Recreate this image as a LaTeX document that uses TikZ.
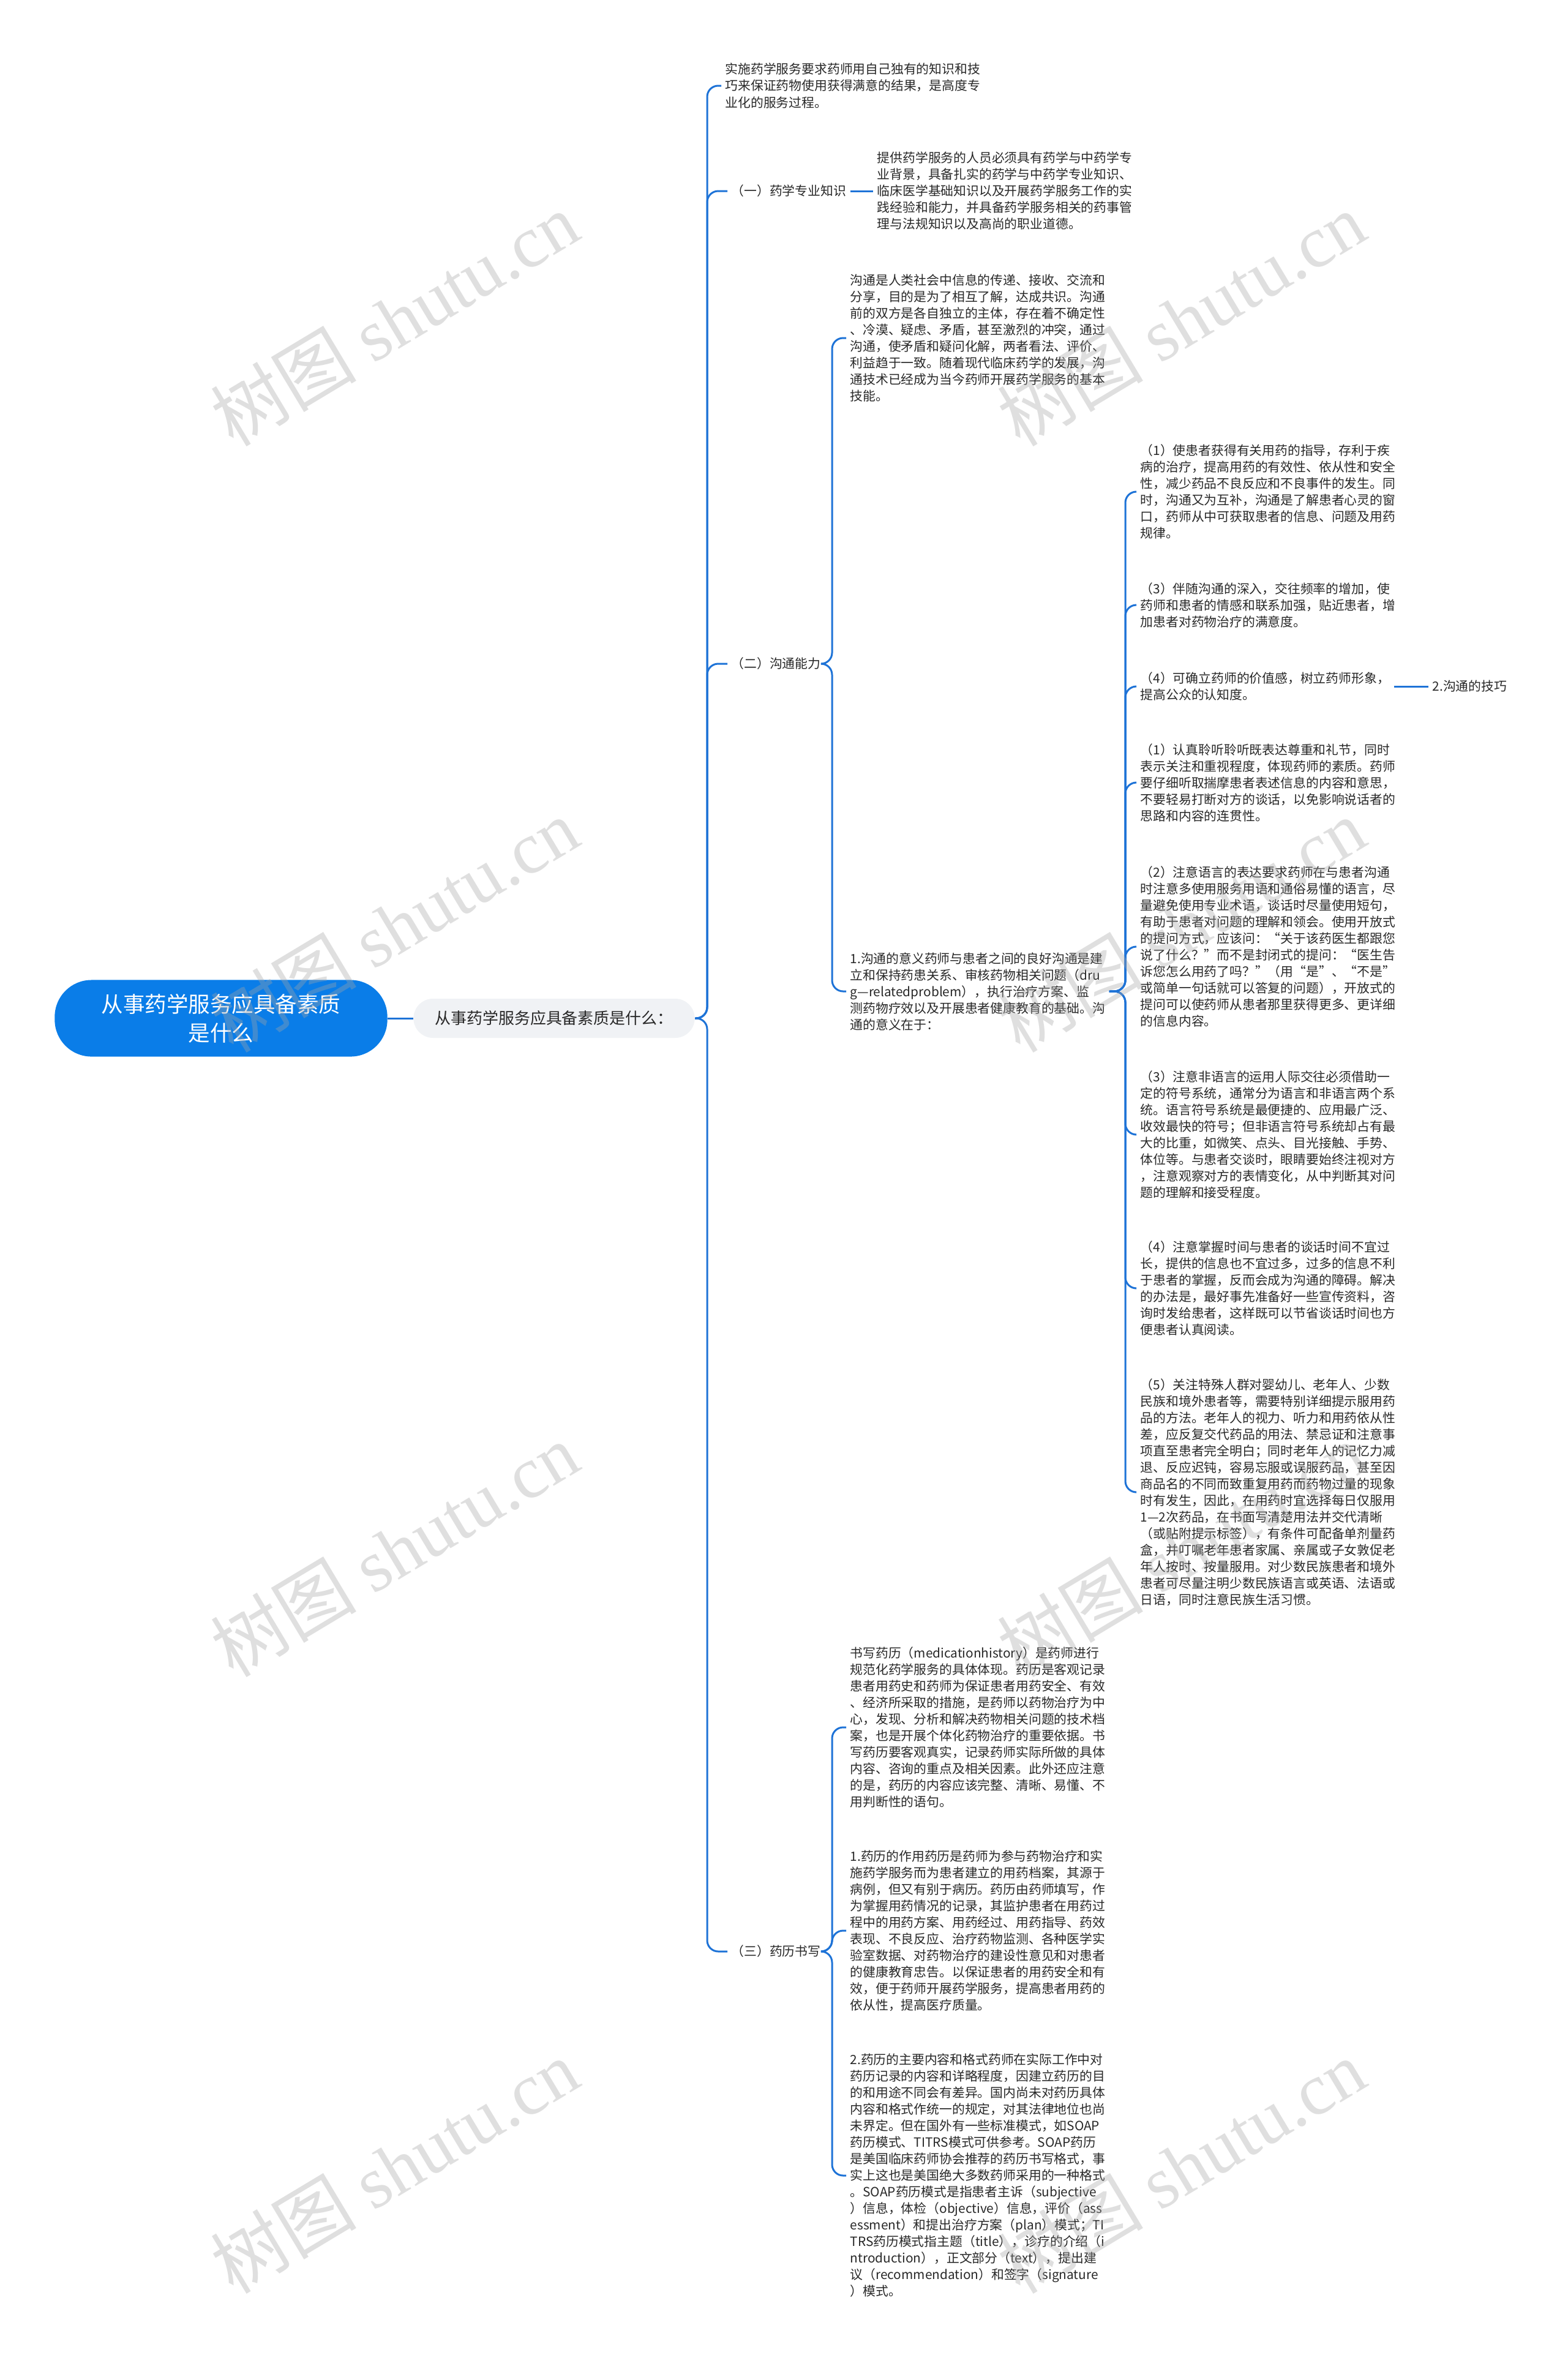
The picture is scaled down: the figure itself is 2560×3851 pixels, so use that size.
\documentclass[tikz,border=0pt]{standalone}
\usepackage{fontspec}
\setmainfont{Noto Sans CJK SC}
\newfontfamily\wmlatin{Liberation Serif}
\definecolor{linec}{RGB}{30,115,215}
\definecolor{rootc}{RGB}{10,125,232}
\definecolor{lvlc}{RGB}{240,242,245}
\definecolor{txtc}{RGB}{40,40,40}
\tikzset{
 conn/.style={draw=linec, line width=0.03cm, rounded corners=0.18cm},
 desc/.style={anchor=west, align=left, inner xsep=0.06cm, inner ysep=0pt, text=txtc, font=\fontsize{5.92pt}{7.68pt}\selectfont},
 rootbox/.style={fill=rootc, rounded corners=0.6cm, minimum width=5.43cm, minimum height=1.25cm, text=white, align=center, font=\fontsize{10.1pt}{13.4pt}\selectfont},
 lvlbox/.style={fill=lvlc, rounded corners=0.32cm, minimum width=4.59cm, minimum height=0.64cm, text=txtc, font=\fontsize{7.37pt}{9pt}\selectfont},
 wm/.style={rotate=31, text=gray!70, text opacity=0.35, font=\fontsize{34pt}{38pt}\selectfont}
}
\begin{document}
\begin{tikzpicture}[x=0.01cm,y=-0.01cm]
\useasboundingbox (0,0) rectangle (2560,3851);
\fill[white] (0,0) rectangle (2560,3851);

% root and level 1
\node[rootbox] (root) at (361,1663) {从事药学服务应具备素质\\是什么};
\node[lvlbox] (l1) at (905,1663) {从事药学服务应具备素质是什么：};
\draw[conn] (root.east) -- (l1.west);

\coordinate (t0) at (1155,1663);

\node[desc] (top) at (1178,140) {实施药学服务要求药师用自己独有的知识和技\\%
巧来保证药物使用获得满意的结果，是高度专\\%
业化的服务过程。};

\node[desc] (k1) at (1188,312) {（一）药学专业知识};
\node[desc] (k1t) at (1426,312) {提供药学服务的人员必须具有药学与中药学专\\%
业背景，具备扎实的药学与中药学专业知识、\\%
临床医学基础知识以及开展药学服务工作的实\\%
践经验和能力，并具备药学服务相关的药事管\\%
理与法规知识以及高尚的职业道德。};

\node[desc] (k2) at (1188,1084) {（二）沟通能力};
\node[desc] (k3) at (1188,3187) {（三）药历书写};

\draw[conn] (l1.east) -- (t0) |- (top.west);
\draw[conn] (l1.east) -- (t0) |- (k1.west);
\draw[conn] (l1.east) -- (t0) |- (k2.west);
\draw[conn] (l1.east) -- (t0) |- (k3.west);
\draw[conn] (k1.east) -- (k1t.west);

% (二) branch
\coordinate (b2) at (1359,1084);
\node[desc] (g0) at (1382,552) {沟通是人类社会中信息的传递、接收、交流和\\%
分享，目的是为了相互了解，达成共识。沟通\\%
前的双方是各自独立的主体，存在着不确定性\\%
、冷漠、疑虑、矛盾，甚至激烈的冲突，通过\\%
沟通，使矛盾和疑问化解，两者看法、评价、\\%
利益趋于一致。随着现代临床药学的发展，沟\\%
通技术已经成为当今药师开展药学服务的基本\\%
技能。};
\node[desc] (gm) at (1382,1619) {1.沟通的意义药师与患者之间的良好沟通是建\\%
立和保持药患关系、审核药物相关问题（dru\\%
g—relatedproblem），执行治疗方案、监\\%
测药物疗效以及开展患者健康教育的基础。沟\\%
通的意义在于：};
\draw[conn] (k2.east) -- (b2) |- (g0.west);
\draw[conn] (k2.east) -- (b2) |- (gm.west);

% children of 1.沟通的意义
\coordinate (b4) at (1838,1619);
\node[desc] (a1) at (1856,803) {（1）使患者获得有关用药的指导，存利于疾\\%
病的治疗，提高用药的有效性、依从性和安全\\%
性，减少药品不良反应和不良事件的发生。同\\%
时，沟通又为互补，沟通是了解患者心灵的窗\\%
口，药师从中可获取患者的信息、问题及用药\\%
规律。};
\node[desc] (a3) at (1856,988) {（3）伴随沟通的深入，交往频率的增加，使\\%
药师和患者的情感和联系加强，贴近患者，增\\%
加患者对药物治疗的满意度。};
\node[desc] (a4) at (1856,1121) {（4）可确立药师的价值感，树立药师形象，\\%
提高公众的认知度。};
\node[desc] (sk) at (2333,1121) {2.沟通的技巧};
\node[desc] (s1) at (1856,1278) {（1）认真聆听聆听既表达尊重和礼节，同时\\%
表示关注和重视程度，体现药师的素质。药师\\%
要仔细听取揣摩患者表述信息的内容和意思，\\%
不要轻易打断对方的谈话，以免影响说话者的\\%
思路和内容的连贯性。};
\node[desc] (s2) at (1856,1546) {（2）注意语言的表达要求药师在与患者沟通\\%
时注意多使用服务用语和通俗易懂的语言，尽\\%
量避免使用专业术语，谈话时尽量使用短句，\\%
有助于患者对问题的理解和领会。使用开放式\\%
的提问方式，应该问：“关于该药医生都跟您\\%
说了什么？”而不是封闭式的提问：“医生告\\%
诉您怎么用药了吗？”（用“是”、“不是”\\%
或简单一句话就可以答复的问题），开放式的\\%
提问可以使药师从患者那里获得更多、更详细\\%
的信息内容。};
\node[desc] (s3) at (1856,1853) {（3）注意非语言的运用人际交往必须借助一\\%
定的符号系统，通常分为语言和非语言两个系\\%
统。语言符号系统是最便捷的、应用最广泛、\\%
收效最快的符号；但非语言符号系统却占有最\\%
大的比重，如微笑、点头、目光接触、手势、\\%
体位等。与患者交谈时，眼睛要始终注视对方\\%
，注意观察对方的表情变化，从中判断其对问\\%
题的理解和接受程度。};
\node[desc] (s4) at (1856,2104) {（4）注意掌握时间与患者的谈话时间不宜过\\%
长，提供的信息也不宜过多，过多的信息不利\\%
于患者的掌握，反而会成为沟通的障碍。解决\\%
的办法是，最好事先准备好一些宣传资料，咨\\%
询时发给患者，这样既可以节省谈话时间也方\\%
便患者认真阅读。};
\node[desc] (s5) at (1856,2437) {（5）关注特殊人群对婴幼儿、老年人、少数\\%
民族和境外患者等，需要特别详细提示服用药\\%
品的方法。老年人的视力、听力和用药依从性\\%
差，应反复交代药品的用法、禁忌证和注意事\\%
项直至患者完全明白；同时老年人的记忆力减\\%
退、反应迟钝，容易忘服或误服药品，甚至因\\%
商品名的不同而致重复用药而药物过量的现象\\%
时有发生，因此，在用药时宜选择每日仅服用\\%
1—2次药品，在书面写清楚用法并交代清晰\\%
（或贴附提示标签），有条件可配备单剂量药\\%
盒，并叮嘱老年患者家属、亲属或子女敦促老\\%
年人按时、按量服用。对少数民族患者和境外\\%
患者可尽量注明少数民族语言或英语、法语或\\%
日语，同时注意民族生活习惯。};
\foreach \c in {a1,a3,a4,s1,s2,s3,s4,s5}{
  \draw[conn] (gm.east) -- (b4) |- (\c.west);
}
\draw[conn] (a4.east) -- (sk.west);

% (三) branch
\coordinate (b3) at (1359,3187);
\node[desc] (c0) at (1382,2821) {书写药历（medicationhistory）是药师进行\\%
规范化药学服务的具体体现。药历是客观记录\\%
患者用药史和药师为保证患者用药安全、有效\\%
、经济所采取的措施，是药师以药物治疗为中\\%
心，发现、分析和解决药物相关问题的技术档\\%
案，也是开展个体化药物治疗的重要依据。书\\%
写药历要客观真实，记录药师实际所做的具体\\%
内容、咨询的重点及相关因素。此外还应注意\\%
的是，药历的内容应该完整、清晰、易懂、不\\%
用判断性的语句。};
\node[desc] (c1) at (1382,3153) {1.药历的作用药历是药师为参与药物治疗和实\\%
施药学服务而为患者建立的用药档案，其源于\\%
病例，但又有别于病历。药历由药师填写，作\\%
为掌握用药情况的记录，其监护患者在用药过\\%
程中的用药方案、用药经过、用药指导、药效\\%
表现、不良反应、治疗药物监测、各种医学实\\%
验室数据、对药物治疗的建设性意见和对患者\\%
的健康教育忠告。以保证患者的用药安全和有\\%
效，便于药师开展药学服务，提高患者用药的\\%
依从性，提高医疗质量。};
\node[desc] (c2) at (1382,3553) {2.药历的主要内容和格式药师在实际工作中对\\%
药历记录的内容和详略程度，因建立药历的目\\%
的和用途不同会有差异。国内尚未对药历具体\\%
内容和格式作统一的规定，对其法律地位也尚\\%
未界定。但在国外有一些标准模式，如SOAP\\%
药历模式、TITRS模式可供参考。SOAP药历\\%
是美国临床药师协会推荐的药历书写格式，事\\%
实上这也是美国绝大多数药师采用的一种格式\\%
。SOAP药历模式是指患者主诉（subjective\\%
）信息，体检（objective）信息，评价（ass\\%
essment）和提出治疗方案（plan）模式；TI\\%
TRS药历模式指主题（title），诊疗的介绍（i\\%
ntroduction），正文部分（text），提出建\\%
议（recommendation）和签字（signature\\%
）模式。};
\draw[conn] (k3.east) -- (b3) |- (c0.west);
\draw[conn] (k3.east) -- (b3) |- (c1.west);
\draw[conn] (k3.east) -- (b3) |- (c2.west);

% watermarks
\node[wm] (wm1) at (644,521) {树图 {\wmlatin shutu.cn}};
\node[wm] (wm2) at (644,1511) {树图 {\wmlatin shutu.cn}};
\node[wm] (wm3) at (644,2531) {树图 {\wmlatin shutu.cn}};
\node[wm] (wm4) at (644,3538) {树图 {\wmlatin shutu.cn}};
\node[wm] (wm5) at (1929,521) {树图 {\wmlatin shutu.cn}};
\node[wm] (wm6) at (1929,1511) {树图 {\wmlatin shutu.cn}};
\node[wm] (wm7) at (1929,2531) {树图 {\wmlatin shutu.cn}};
\node[wm] (wm8) at (1929,3538) {树图 {\wmlatin shutu.cn}};
\end{tikzpicture}
\end{document}
